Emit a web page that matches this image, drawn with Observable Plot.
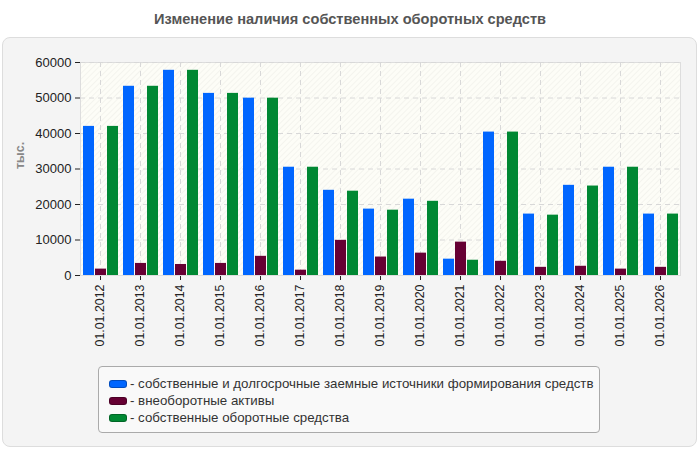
<!DOCTYPE html>
<html>
<head>
<meta charset="utf-8">
<script src="https://cdn.jsdelivr.net/npm/d3@7"></script>
<script src="https://cdn.jsdelivr.net/npm/@observablehq/plot@0.6"></script>
<style>
  html, body { margin: 0; padding: 0; background: #fff; }
  body { width: 700px; height: 450px; position: relative; overflow: hidden; font-family: "Liberation Sans", Arial, sans-serif; }
  #title { position: absolute; left: 0; top: 11px; width: 700px; text-align: center; font-size: 14.6px; font-weight: bold; color: #555; }
  #panel { position: absolute; left: 2px; top: 37px; width: 693px; height: 408px; background: #f4f4f4; border: 1px solid #ddd; border-radius: 8px; }
  #chart { position: absolute; left: 0; top: 0; }
  #ylab { position: absolute; left: 8px; top: 150px; width: 24px; text-align: center; transform: rotate(-90deg); transform-origin: center; font-size: 12.5px; font-weight: bold; color: #888; }
  #legend { position: absolute; left: 98px; top: 366px; width: 502px; height: 67px; background: #f9f9f9; border: 1px solid #aaa; border-radius: 4px; box-sizing: border-box; padding-top: 8px; }
  .item { display: flex; align-items: center; height: 17px; padding-left: 10px; font-size: 13.3px; color: #333; }
  .sw { width: 18px; height: 8px; border-radius: 3px; margin-right: 3px; box-sizing: border-box; border: 1px solid rgba(0,0,0,0.25); }
</style>
</head>
<body>
<div id="title">Изменение наличия собственных оборотных средств</div>
<div id="panel"></div>
<div id="chart"></div>
<div id="ylab">тыс.</div>
<div id="legend"></div>
<script>
const dates = ["01.01.2012","01.01.2013","01.01.2014","01.01.2015","01.01.2016","01.01.2017","01.01.2018","01.01.2019","01.01.2020","01.01.2021","01.01.2022","01.01.2023","01.01.2024","01.01.2025","01.01.2026"];
const sources    = [42000, 53300, 57800, 51300, 49950, 30500, 24000, 18700, 21500, 4600, 40400, 17300, 25400, 30500, 17300];
const nonCurrent = [1800, 3400, 3100, 3400, 5400, 1500, 9900, 5200, 6300, 9400, 4000, 2300, 2600, 1800, 2300];
const working    = [42000, 53300, 57800, 51300, 49950, 30500, 23750, 18400, 20900, 4300, 40400, 17000, 25200, 30500, 17300];
const seriesNames = [
  "собственные и долгосрочные заемные источники формирования средств",
  "внеоборотные активы",
  "собственные оборотные средства"
];
const colors = ["#0066ff", "#660033", "#008833"];
const yTicks = [0, 10000, 20000, 30000, 40000, 50000, 60000];

const rows = (vals) => dates.map((d, i) => ({date: d, v: vals[i]}));

const plot = Plot.plot({
  width: 700,
  height: 360,
  marginTop: 62,
  marginLeft: 80,
  marginRight: 20,
  marginBottom: 85,
  style: {background: "transparent", color: "#222", fontSize: "13px", fontFamily: "'Liberation Sans', Arial, sans-serif"},
  x: {domain: dates, padding: 0, tickRotate: -90, tickSize: 5, label: null, line: true},
  y: {domain: [0, 60000], ticks: yTicks, tickFormat: d3.format("d"), tickSize: 5, label: null, line: true},
  marks: [
    Plot.frame({fill: "url(#hatch)", stroke: "#ddd"}),
    Plot.ruleY(yTicks.slice(1), {stroke: "#d8d8d8", strokeDasharray: "5,4"}),
    Plot.ruleX(dates, {stroke: "#d8d8d8", strokeDasharray: "5,4"}),
    Plot.barY(rows(sources), {x: "date", y: "v", fill: colors[0], insetLeft: 3, insetRight: 26}),
    Plot.barY(rows(nonCurrent), {x: "date", y: "v", fill: colors[1], insetLeft: 15, insetRight: 14}),
    Plot.barY(rows(working), {x: "date", y: "v", fill: colors[2], insetLeft: 27, insetRight: 2})
  ]
});

const ns = "http://www.w3.org/2000/svg";
const defs = document.createElementNS(ns, "defs");
defs.innerHTML = `<pattern id="hatch" width="4" height="4" patternUnits="userSpaceOnUse" patternTransform="rotate(45)">
  <rect width="4" height="4" fill="#fdfdf7"></rect>
  <line x1="0" y1="0" x2="0" y2="4" stroke="#efefe8" stroke-width="1.2"></line>
</pattern>`;
plot.insertBefore(defs, plot.firstChild);
// slightly smaller font for the rotated date labels
plot.querySelectorAll("[aria-label='x-axis tick label'] text, [aria-label='x-axis'] text").forEach(t => t.style.fontSize = "12.4px");
document.getElementById("chart").appendChild(plot);

const legend = document.getElementById("legend");
seriesNames.forEach((name, i) => {
  const item = document.createElement("div");
  item.className = "item";
  const sw = document.createElement("span");
  sw.className = "sw";
  sw.style.background = colors[i];
  const t = document.createElement("span");
  t.textContent = "- " + name;
  item.appendChild(sw);
  item.appendChild(t);
  legend.appendChild(item);
});
</script>
</body>
</html>
